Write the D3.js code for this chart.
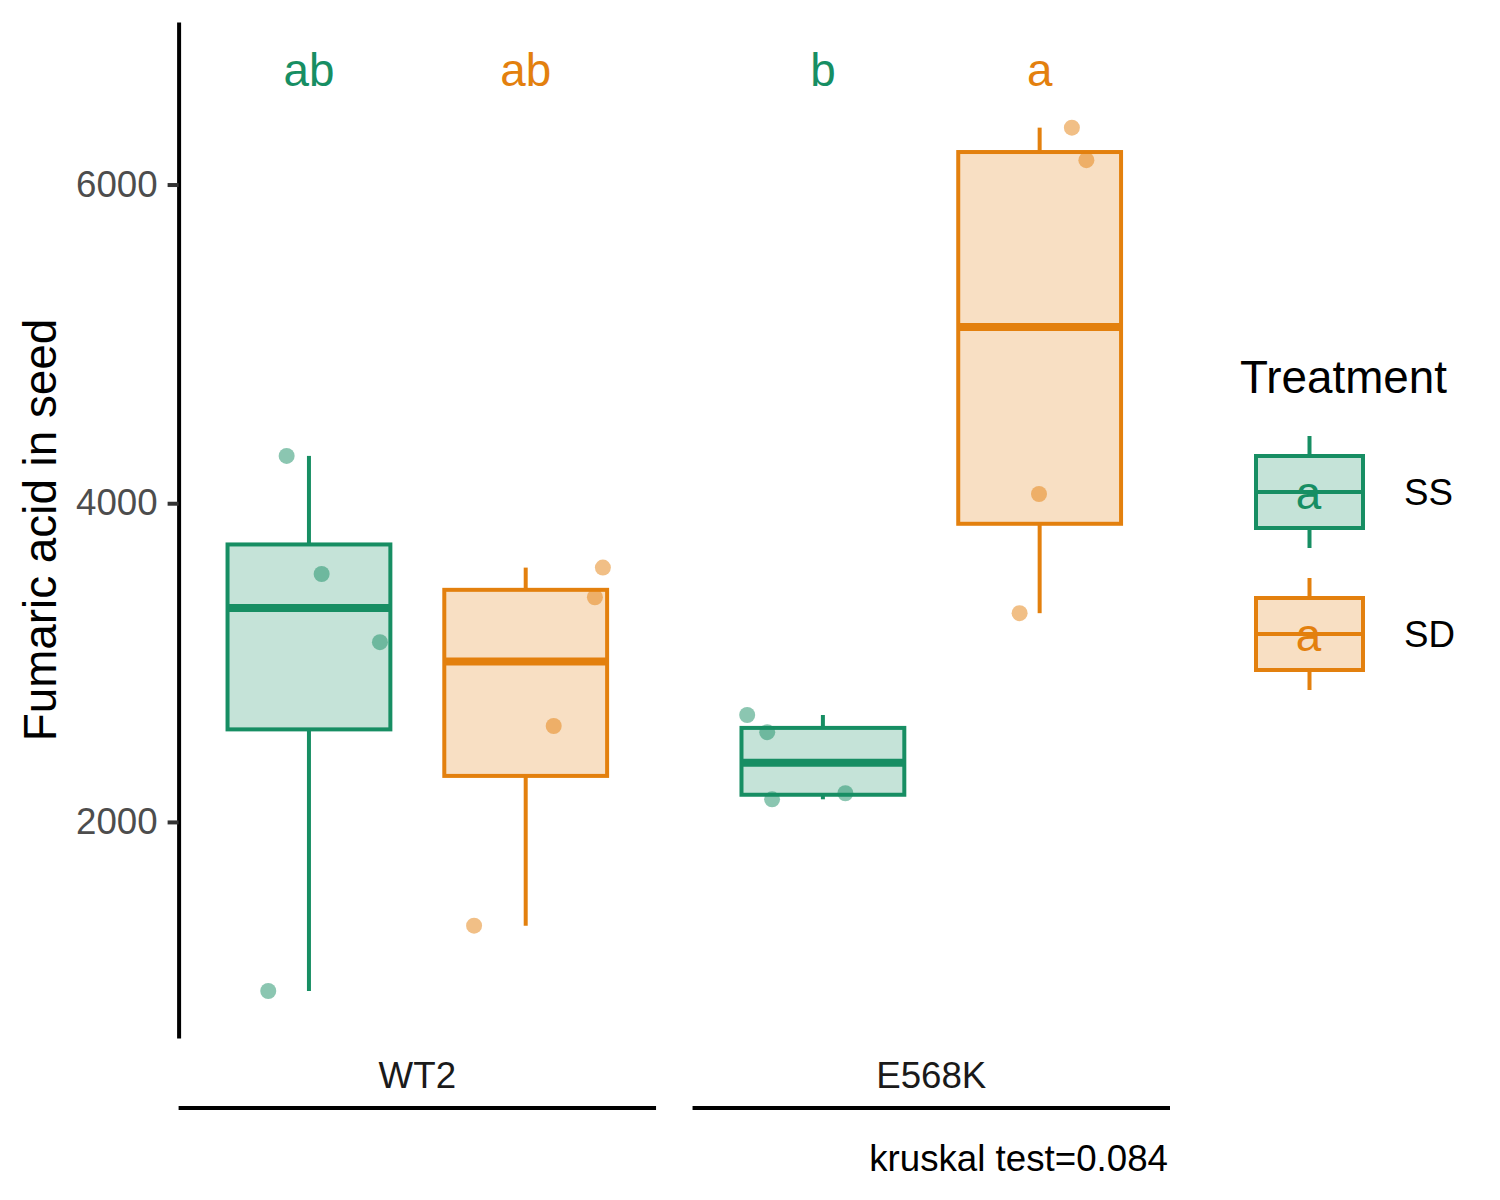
<!DOCTYPE html>
<html>
<head>
<meta charset="utf-8">
<script src="https://cdn.jsdelivr.net/npm/d3@7"></script>
<style>
  body { margin: 0; background: #fff; }
  text { font-family: "Liberation Sans", Arial, sans-serif; }
</style>
</head>
<body>
<svg id="chart" width="1500" height="1200"></svg>
<script>
// categories
var genotypes = ['WT2', 'E568K'];
var treatments = ['SS', 'SD'];

var wt2SS = [4297, 3556, 3128, 939];
var wt2SD = [3596, 3410, 2602, 1349];
var e568kSS = [2671, 2563, 2142, 2180];
var e568kSD = [6357, 6153, 4058, 3310];

// horizontal jitter of each point, as a share of the box width
var wt2SSJitter = [-0.137, 0.078, 0.436, -0.250];
var wt2SDJitter = [0.474, 0.425, 0.172, -0.317];
var e568kSSJitter = [-0.465, -0.342, -0.312, 0.138];
var e568kSDJitter = [0.198, 0.287, -0.004, -0.123];

// significance letters per group
var letters = { 'WT2|SS': 'ab', 'WT2|SD': 'ab', 'E568K|SS': 'b', 'E568K|SD': 'a' };

var yTicks = [2000, 4000, 6000];
var yDomain = [644, 7020];
var kruskalLabel = 'kruskal test=0.084';

var colors = { SS: '#178e63', SD: '#e3800e' };

var groups = [
  { genotype: 'WT2', treatment: 'SS', values: wt2SS, jitter: wt2SSJitter },
  { genotype: 'WT2', treatment: 'SD', values: wt2SD, jitter: wt2SDJitter },
  { genotype: 'E568K', treatment: 'SS', values: e568kSS, jitter: e568kSSJitter },
  { genotype: 'E568K', treatment: 'SD', values: e568kSD, jitter: e568kSDJitter }
];

// boxplot stats (R type 7 quantiles, whiskers to 1.5 IQR)
groups.forEach(function(g) {
  var s = g.values.slice().sort(d3.ascending);
  g.q1 = d3.quantile(s, 0.25);
  g.med = d3.quantile(s, 0.5);
  g.q3 = d3.quantile(s, 0.75);
  var iqr = g.q3 - g.q1;
  g.lo = d3.min(s.filter(function(v) { return v >= g.q1 - 1.5 * iqr; }));
  g.hi = d3.max(s.filter(function(v) { return v <= g.q3 + 1.5 * iqr; }));
});

var svg = d3.select('#chart');
var fontSmall = 36.7, fontLarge = 45.8;

var y = d3.scaleLinear().domain(yDomain).range([1038, 22]);

var xFacet = d3.scaleBand().domain(genotypes).range([178.6, 1170]).paddingInner(0.071);
var xInner = d3.scaleBand().domain(treatments)
  .range([0, xFacet.bandwidth()]).paddingInner(0.2488).paddingOuter(0.2258);
var boxW = xInner.bandwidth();

function cx(g) {
  return xFacet(g.genotype) + xInner(g.treatment) + boxW / 2;
}

// boxes
var box = svg.append('g').selectAll('g.box')
  .data(groups).enter().append('g').attr('class', 'box');

// upper and lower whiskers
box.append('line')
  .attr('x1', cx).attr('x2', cx)
  .attr('y1', function(d) { return y(d.hi); })
  .attr('y2', function(d) { return y(d.q3); })
  .attr('stroke', function(d) { return colors[d.treatment]; })
  .attr('stroke-width', 4);

box.append('line')
  .attr('x1', cx).attr('x2', cx)
  .attr('y1', function(d) { return y(d.q1); })
  .attr('y2', function(d) { return y(d.lo); })
  .attr('stroke', function(d) { return colors[d.treatment]; })
  .attr('stroke-width', 4);

box.append('rect')
  .attr('x', function(d) { return cx(d) - boxW / 2; })
  .attr('width', boxW)
  .attr('y', function(d) { return y(d.q3); })
  .attr('height', function(d) { return y(d.q1) - y(d.q3); })
  .attr('fill', function(d) { return colors[d.treatment]; })
  .attr('fill-opacity', 0.25)
  .attr('stroke', function(d) { return colors[d.treatment]; })
  .attr('stroke-width', 4);

box.append('line')
  .attr('x1', function(d) { return cx(d) - boxW / 2; })
  .attr('x2', function(d) { return cx(d) + boxW / 2; })
  .attr('y1', function(d) { return y(d.med); })
  .attr('y2', function(d) { return y(d.med); })
  .attr('stroke', function(d) { return colors[d.treatment]; })
  .attr('stroke-width', 8);

// jittered points
var points = [];
groups.forEach(function(g) {
  g.values.forEach(function(v, i) {
    points.push({ g: g, value: v, jitter: g.jitter[i] });
  });
});

svg.append('g').selectAll('circle')
  .data(points).enter().append('circle')
  .attr('cx', function(d) { return cx(d.g) + d.jitter * boxW; })
  .attr('cy', function(d) { return y(d.value); })
  .attr('r', 8)
  .attr('fill', function(d) { return colors[d.g.treatment]; })
  .attr('fill-opacity', 0.5);

// letters on top
svg.append('g').selectAll('text')
  .data(groups).enter().append('text')
  .attr('x', cx)
  .attr('y', 86)
  .attr('text-anchor', 'middle')
  .style('font-size', fontLarge + 'px')
  .attr('fill', function(d) { return colors[d.treatment]; })
  .text(function(d) { return letters[d.genotype + '|' + d.treatment]; });

// y axis
var yAxis = svg.append('g')
  .attr('transform', 'translate(178.6,0)')
  .call(d3.axisLeft(y).tickValues(yTicks).tickSize(11).tickSizeOuter(0).tickPadding(10)
    .tickFormat(d3.format('d')));
yAxis.select('.domain').attr('stroke', '#000').attr('stroke-width', 4);
yAxis.selectAll('.tick line').attr('stroke', '#333').attr('stroke-width', 4);
yAxis.selectAll('.tick text')
  .attr('fill', '#4d4d4d')
  .style('font-size', fontSmall + 'px')
  .style('font-family', '"Liberation Sans", Arial, sans-serif');

svg.append('text')
  .attr('transform', 'translate(56,530) rotate(-90)')
  .attr('text-anchor', 'middle')
  .style('font-size', fontLarge + 'px')
  .attr('fill', '#000')
  .text('Fumaric acid in seed');

// facet labels with lines underneath
var strip = svg.append('g').selectAll('g')
  .data(genotypes).enter().append('g');

strip.append('text')
  .attr('x', function(d) { return xFacet(d) + xFacet.bandwidth() / 2; })
  .attr('y', 1088)
  .attr('text-anchor', 'middle')
  .style('font-size', fontSmall + 'px')
  .attr('fill', '#1a1a1a')
  .text(function(d) { return d; });

strip.append('line')
  .attr('x1', function(d) { return xFacet(d); })
  .attr('x2', function(d) { return xFacet(d) + xFacet.bandwidth(); })
  .attr('y1', 1108).attr('y2', 1108)
  .attr('stroke', '#000')
  .attr('stroke-width', 4);

svg.append('text')
  .attr('x', 1168)
  .attr('y', 1171)
  .attr('text-anchor', 'end')
  .style('font-size', fontSmall + 'px')
  .attr('fill', '#000')
  .text(kruskalLabel);

// legend
var legend = svg.append('g');
legend.append('text')
  .attr('x', 1240).attr('y', 393)
  .style('font-size', fontLarge + 'px')
  .attr('fill', '#000')
  .text('Treatment');

var keyX = 1256, keyW = 107, keyH = 72;
var key = legend.selectAll('g.key')
  .data(treatments).enter().append('g')
  .attr('class', 'key')
  .attr('transform', function(d, i) { return 'translate(0,' + (492 + i * 142) + ')'; });

key.append('line')
  .attr('x1', keyX + keyW / 2).attr('x2', keyX + keyW / 2)
  .attr('y1', -56).attr('y2', 56)
  .attr('stroke', function(d) { return colors[d]; })
  .attr('stroke-width', 4);

key.append('rect')
  .attr('x', keyX).attr('y', -keyH / 2)
  .attr('width', keyW).attr('height', keyH)
  .attr('fill', '#fff');

key.append('rect')
  .attr('x', keyX).attr('y', -keyH / 2)
  .attr('width', keyW).attr('height', keyH)
  .attr('fill', function(d) { return colors[d]; })
  .attr('fill-opacity', 0.25)
  .attr('stroke', function(d) { return colors[d]; })
  .attr('stroke-width', 4);

key.append('line')
  .attr('x1', keyX).attr('x2', keyX + keyW)
  .attr('y1', 0).attr('y2', 0)
  .attr('stroke', function(d) { return colors[d]; })
  .attr('stroke-width', 4);

key.append('text')
  .attr('x', keyX + keyW / 2 - 1)
  .attr('y', 17)
  .attr('text-anchor', 'middle')
  .style('font-size', fontLarge + 'px')
  .attr('fill', function(d) { return colors[d]; })
  .text('a');

key.append('text')
  .attr('x', 1404)
  .attr('y', 13)
  .style('font-size', fontSmall + 'px')
  .attr('fill', '#000')
  .text(function(d) { return d; });
</script>
</body>
</html>
